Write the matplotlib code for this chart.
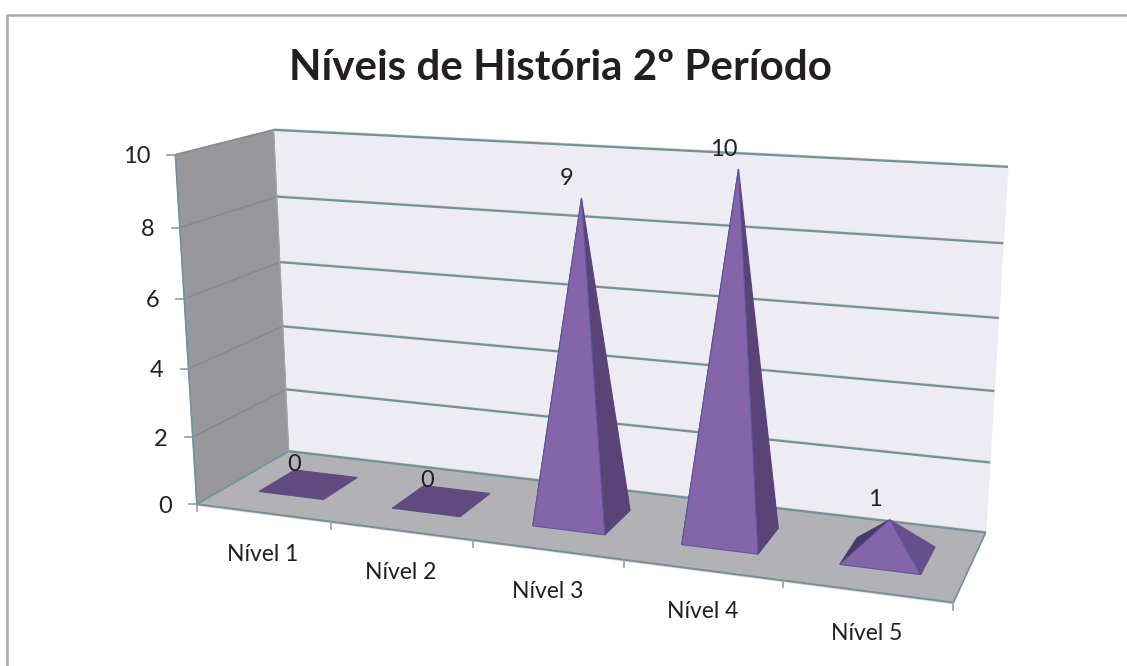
import numpy as np
import matplotlib
matplotlib.use('Agg')
import matplotlib.pyplot as plt
from matplotlib.patches import Polygon

# Chart values
categories = ['Nível 1', 'Nível 2', 'Nível 3', 'Nível 4', 'Nível 5']
values = [0, 0, 9, 10, 1]
y_ticks = [0, 2, 4, 6, 8, 10]
title = 'Níveis de História 2º Período'

plt.rcParams['font.family'] = ['Lato', 'DejaVu Sans']

W, H = 1127, 666
fig = plt.figure(figsize=(W / 100, H / 100), dpi=100)
ax = fig.add_axes([0, 0, 1, 1])
ax.set_xlim(0, W)
ax.set_ylim(H, 0)
ax.axis('off')

# Box corners -> pixels, used to fit the camera of the 3D chart
# (category position, depth 0=front 1=back, value)
box_refs = [((0, 0, 0), (197, 505)), ((0, 1, 0), (288, 451)), ((5, 1, 0), (986, 532)),
            ((5, 0, 0), (953, 603)), ((0, 0, 10), (175, 154)), ((0, 1, 10), (273, 130)),
            ((5, 1, 10), (1008, 167)), ((0, 1, 2), (286, 389)), ((0, 1, 4), (283, 327)),
            ((0, 1, 6), (280, 262)), ((0, 1, 8), (277, 197)), ((0, 0, 2), (193, 437)),
            ((0, 0, 4), (188, 368)), ((0, 0, 6), (185, 299)), ((0, 0, 8), (180, 228))]
rows = []
for (u, d, v), (px, py) in box_refs:
    p = [u, d, v / 10, 1]
    rows.append(p + [0, 0, 0, 0] + [-px * c for c in p])
    rows.append([0, 0, 0, 0] + p + [-py * c for c in p])
cam = np.linalg.svd(np.array(rows, dtype=float))[2][-1].reshape(3, 4)


def project(u, d, v):
    x, y, w = cam @ np.array([u, d, v / 10, 1.0])
    return x / w, y / w


def face(pts, color, edge=None, z=1):
    ax.add_patch(Polygon([project(*p) for p in pts], closed=True, facecolor=color,
                         edgecolor=edge or color, linewidth=0.8, zorder=z))


def line3d(a, b, color, lw=1.6, z=2, dy=0):
    pa, pb = project(*a), project(*b)
    ax.plot([pa[0], pb[0]], [pa[1] + dy, pb[1] + dy], color=color, lw=lw, zorder=z, solid_capstyle='butt')


# Outer frame: only top and left are inside the crop
frame_c = '#a8a8ac'
ax.plot([6.5, 6.5, W], [H, 15, 15], color=frame_c, lw=1.8, zorder=0)

n = len(categories)
top = y_ticks[-1]
grid_c = '#6f929c'
text_c = '#231f20'

# Walls and floor
face([(0, 1, 0), (n, 1, 0), (n, 1, top), (0, 1, top)], '#eeecf3', z=1)
face([(0, 0, 0), (0, 1, 0), (0, 1, top), (0, 0, top)], '#98989c', z=1)
face([(0, 0, 0), (n, 0, 0), (n, 1, 0), (0, 1, 0)], '#b2b1b6', z=1)

# Gridlines and edges
for t in y_ticks:
    line3d((0, 1, t), (n, 1, t), '#f3cfc0', lw=0.8, dy=-1.2)
    line3d((0, 1, t), (n, 1, t), grid_c)
    line3d((0, 0, t), (0, 1, t), '#7f8d92' if t else grid_c, lw=1.2)
    p = project(0, 0, t)
    ax.plot([p[0] - 8, p[0]], [p[1], p[1]], color='#8f9ea3', lw=1.2, zorder=2)
    ax.text(p[0] - 25, p[1] + 2, str(t), ha='right', va='center', fontsize=17, color=text_c, zorder=6)
line3d((0, 0, 0), (0, 0, top), grid_c, lw=1.2)
line3d((0, 1, 0), (0, 1, top), '#a5a5a8', lw=0.8)
line3d((0, 0, 0), (n, 0, 0), '#f3cfc0', lw=0.8, dy=1.2)
line3d((0, 0, 0), (n, 0, 0), grid_c, lw=1.4)
line3d((n, 0, 0), (n, 1, 0), grid_c, lw=1.2)

# Category axis
for i in range(n + 1):
    p = project(i, 0, 0)
    ax.plot([p[0], p[0]], [p[1], p[1] + 7], color='#8f9ea3', lw=1.2, zorder=2)
for i, cat in enumerate(categories):
    p = project(i + 0.5, 0, 0)
    ax.text(p[0], p[1] + 42, cat, ha='center', va='center', fontsize=16.5, color=text_c)

# Pyramids
half_w = 0.245
half_d = 0.2
for i, val in enumerate(values):
    c = i + 0.5
    fl, fr = (c - half_w, 0.5 - half_d, 0), (c + half_w, 0.5 - half_d, 0)
    bl, br = (c - half_w, 0.5 + half_d, 0), (c + half_w, 0.5 + half_d, 0)
    apex = (c, 0.5, val)
    if val == 0:
        face([fl, fr, br, bl], '#614a80', z=3)
    else:
        face([bl, fl, apex], '#4a3868', z=3)
        face([fr, br, apex], '#5a4376' if val > 1 else '#65508c', z=3)
        face([fl, fr, apex], '#8565aa', edge='#5f55a0', z=4)
    p = project(*apex)
    ax.text(p[0] - 15, p[1] - 20, str(val), ha='center', va='center', fontsize=17, color=text_c, zorder=6)

ax.text(560, 80, title, ha='center', va='baseline', fontsize=30.3, fontweight='bold', color=text_c)

fig.savefig('out.png', dpi=100)
